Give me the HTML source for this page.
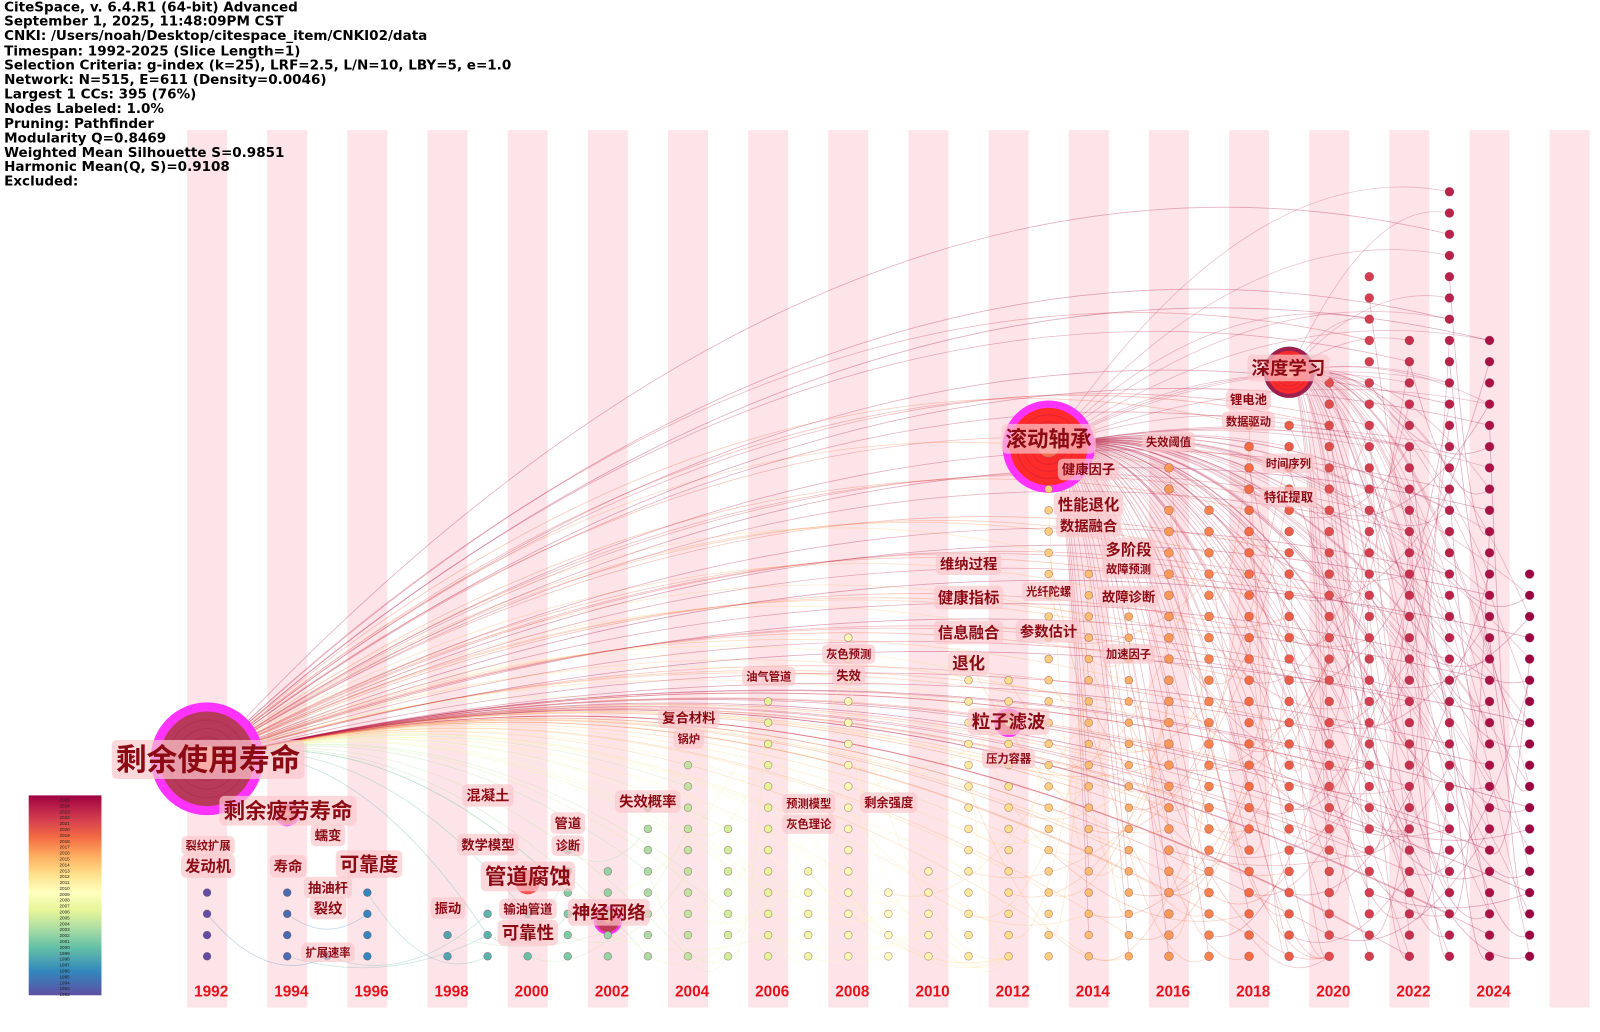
<!DOCTYPE html>
<html><head><meta charset="utf-8">
<style>
html,body{margin:0;padding:0;background:#fff;overflow:hidden;width:1600px;height:1032px;}
#wrap{position:relative;width:1561px;height:1007px;overflow:visible;transform:scale(1.025);transform-origin:0 0;font-family:"Liberation Sans","Noto Sans CJK SC",sans-serif;}
#info{position:absolute;left:4px;top:1px;font-family:"DejaVu Sans","Liberation Sans",sans-serif;font-weight:bold;font-size:13.2px;line-height:14.2px;color:#000;white-space:pre;z-index:5;}
svg{position:absolute;left:0;top:0;}
</style></head><body>
<div id="wrap">
<svg id="chart" width="1561" height="1007"></svg>
<div id="info">CiteSpace, v. 6.4.R1 (64-bit) Advanced
September 1, 2025, 11:48:09PM CST
CNKI: /Users/noah/Desktop/citespace_item/CNKI02/data
Timespan: 1992-2025 (Slice Length=1)
Selection Criteria: g-index (k=25), LRF=2.5, L/N=10, LBY=5, e=1.0
Network: N=515, E=611 (Density=0.0046)
Largest 1 CCs: 395 (76%)
Nodes Labeled: 1.0%
Pruning: Pathfinder
Modularity Q=0.8469
Weighted Mean Silhouette S=0.9851
Harmonic Mean(Q, S)=0.9108
Excluded:</div>
</div>
<script>
// ---- data ----
const years = [1992,1993,1994,1995,1996,1997,1998,1999,2000,2001,2002,2003,2004,2005,2006,2007,2008,2009,2010,2011,2012,2013,2014,2015,2016,2017,2018,2019,2020,2021,2022,2023,2024,2025];
const nodeCounts = [4,0,4,1,4,0,2,3,3,6,5,8,10,7,13,5,16,4,5,15,14,23,19,18,24,22,26,26,28,33,30,37,30,19];
const yearTicks = [1992,1994,1996,1998,2000,2002,2004,2006,2008,2010,2012,2014,2016,2018,2020,2022,2024];
const hubs = [
 {label:"剩余使用寿命", year:1992, row:9.3, r:55, ring:"#ff33ff", fill:"#b83a5a"},
 {label:"滚动轴承", year:2013, row:24, r:45, ring:"#ff33ff", fill:"#ff2a2a"},
 {label:"深度学习", year:2019, row:27.5, r:25, ring:"#9b2050", fill:"#ff2a2a"},
 {label:"剩余疲劳寿命", year:1994, row:6.7, r:12, ring:"#ff33ff", fill:"#c84060"},
 {label:"管道腐蚀", year:2000, row:3.5, r:12, ring:"#ff5050", fill:"#ff5050"},
 {label:"神经网络", year:2002, row:1.7, r:14, ring:"#ff33ff", fill:"#c84060"},
 {label:"粒子滤波", year:2012, row:11, r:14, ring:"#ff33ff", fill:"#d85060"}
];
const labels = [
 ["剩余使用寿命",203,741,30],["剩余疲劳寿命",281,791,21],["裂纹扩展",203,825,11],["发动机",203,845,15],
 ["寿命",281,845,14],["蠕变",320,815,13],["可靠度",360,843,19],["抽油杆",320,866,13],["裂纹",320,886,14],
 ["扩展速率",320,929,11],["振动",437,886,13],["混凝土",476,776,14],["数学模型",476,824,13],["管道",554,803,13],
 ["诊断",554,825,12],["管道腐蚀",515,855,21],["输油管道",515,887,12],["可靠性",515,910,17],["神经网络",594,890,18],
 ["失效概率",632,782,14],["复合材料",672,700,13],["锅炉",672,721,11],["油气管道",750,660,11],["预测模型",789,784,11],
 ["灰色理论",789,804,11],["灰色预测",828,638,11],["失效",828,659,12],["剩余强度",867,783,12],["维纳过程",945,550,14],
 ["健康指标",945,583,15],["信息融合",945,617,15],["退化",945,647,16],["粒子滤波",984,704,18],["压力容器",984,740,11],
 ["参数估计",1023,616,14],["光纤陀螺",1023,577,11],["滚动轴承",1023,428,21],["健康因子",1062,458,13],["性能退化",1062,492,15],
 ["数据融合",1062,513,14],["多阶段",1101,536,15],["故障预测",1101,555,11],["故障诊断",1101,582,13],["加速因子",1101,638,11],
 ["失效阈值",1140,431,11],["深度学习",1257,359,18],["锂电池",1218,390,12],["数据驱动",1218,411,11],["时间序列",1257,452,11],["特征提取",1257,485,12]
];
// ---- scales ----
const X0=202, DX=39.1, Y0=933, DY=20.72;
const xOf = y => X0 + (y-1992)*DX;
const yOf = r => Y0 - r*DY;
const stops=[[1992,[94,79,162]],[1996,[50,136,189]],[2000,[102,194,165]],[2003,[171,221,164]],[2006,[230,245,152]],[2009,[255,255,191]],[2012,[254,224,139]],[2015,[253,174,97]],[2018,[244,109,67]],[2021,[213,62,79]],[2025,[158,1,66]]];
function colOf(y){for(let i=0;i<stops.length-1;i++){const a=stops[i],b=stops[i+1];if(y<=b[0]){const t=(y-a[0])/(b[0]-a[0]);return 'rgb('+a[1].map((v,k)=>Math.round(v+(b[1][k]-v)*t)).join(',')+')';}}return 'rgb(158,1,66)';}
const NS="http://www.w3.org/2000/svg";
const svg=document.getElementById('chart');
function mk(tag,attrs,parent){const e=document.createElementNS(NS,tag);for(const k in attrs)e.setAttribute(k,attrs[k]);(parent||svg).appendChild(e);return e;}
// stripes
const gS=mk('g',{});


for(let y=1992;y<=2026;y+=2){const s=mk('rect',{x:xOf(y)-19.5,y:127,width:39,height:856,fill:'#fde4e8'},gS);

}
// nodes list
const nodes=[];
years.forEach((y,i)=>{for(let r=0;r<nodeCounts[i];r++)nodes.push({year:y,row:r,x:xOf(y),y:yOf(r)});});
// edges
const gE=mk('g',{fill:'none'});


function arc(x1,y1,x2,y2,c,op,k){const mx=(x1+x2)/2;const cy=Math.min(y1,y2)-Math.abs(x2-x1)*k;
const p=mk('path',{d:`M${x1},${y1} Q${mx},${cy} ${x2},${y2}`,stroke:c,'stroke-opacity':op,'stroke-width':0.8},gE);

}
const byYear={};nodes.forEach(n=>{(byYear[n.year]=byYear[n.year]||[]).push(n);});
// hub links
const h0={x:xOf(1992),y:yOf(9.3)};
nodes.forEach((n,i)=>{if(n.year>=1998&&i%4===0)arc(h0.x,h0.y,n.x,n.y,colOf(n.year),0.35,0.12);});
const hb={x:xOf(2013),y:yOf(24)};
nodes.forEach((n,i)=>{if(n.year>2013&&i%3===0)arc(hb.x,hb.y,n.x,n.y,'#c04060',0.3,0.1);});
const hd={x:xOf(2019),y:yOf(27.5)};
nodes.forEach((n,i)=>{if(n.year>2019&&i%4===1)arc(hd.x,hd.y,n.x,n.y,'#c04060',0.3,0.1);});
// local links
nodes.forEach((n,i)=>{if(i%2)return;const ty=n.year+1+(i%5);const t=byYear[ty];if(t&&t.length){const m=t[(i*7)%t.length];
const p=mk('path',{d:`M${n.x},${n.y} Q${(n.x+m.x)/2},${Math.max(n.y,m.y)+30} ${m.x},${m.y}`,stroke:colOf(ty),'stroke-opacity':0.3,'stroke-width':0.8,fill:'none'},gE);

}});
// hubs
hubs.forEach(h=>{const cx=xOf(h.year),cy=yOf(h.row);const g=mk('g',{});


mk('circle',{cx,cy,r:h.r,fill:h.ring},g);
mk('circle',{cx,cy,r:h.r*0.84,fill:h.fill},g);
for(let k=1;k<5;k++)mk('circle',{cx,cy,r:h.r*0.84*(1-k*0.18),fill:k===4?'#f07050':'none',stroke:'#a02040','stroke-opacity':0.35},g);});
// nodes
const gN=mk('g',{});


nodes.forEach(n=>{const c=mk('circle',{cx:n.x,cy:n.y,r:n.year>2015?4.3:3.8,fill:colOf(n.year),stroke:'#804050','stroke-width':0.6,'stroke-opacity':0.6},gN);

});
// labels
const gL=mk('g',{});


labels.forEach(l=>{const [t,x,y,fs]=l;const w=t.length*fs+8,h=fs+8;
mk('rect',{x:x-w/2,y:y-h/2,width:w,height:h,rx:5,fill:'#fbc8cc','fill-opacity':0.7},gL);
const tx=mk('text',{x,y:y+fs*0.36,'text-anchor':'middle','font-size':fs,'font-weight':'bold',fill:'#8c0a14','font-family':'"Liberation Sans","Noto Sans CJK SC",sans-serif'},gL);
tx.textContent=t;

});
// year ticks
yearTicks.forEach(y=>{const t=mk('text',{x:xOf(y)+4,y:972,'text-anchor':'middle','font-size':15,'font-weight':'bold',fill:'#e8101a','font-family':'"Liberation Sans",sans-serif'});
t.textContent=y;

});
// legend
const defs=mk('defs',{});const lg=mk('linearGradient',{id:'lg',x1:0,y1:0,x2:0,y2:1},defs);
for(let y=2025;y>=1992;y-=1){mk('stop',{offset:((2025-y)/33*100)+'%','stop-color':colOf(y)},lg);}
const leg=mk('rect',{x:28,y:776,width:71,height:195,fill:'url(#lg)'});


for(let y=2025;y>=1992;y--){const t=mk('text',{x:63,y:782+(2025-y)*5.75,'text-anchor':'middle','font-size':4.5,fill:'#222','font-family':'"Liberation Sans",sans-serif'});t.textContent=y;}
</script>
</body></html>
